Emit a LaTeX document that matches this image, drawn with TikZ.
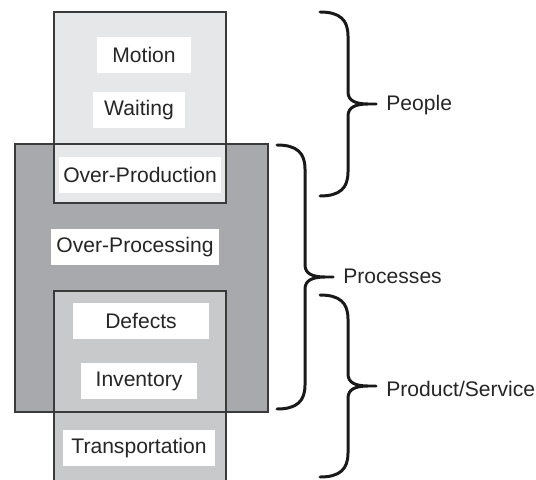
\documentclass[tikz,border=0pt]{standalone}
\usepackage{fontspec}
\setmainfont{Liberation Sans}

\definecolor{peoplegray}{HTML}{E6E7E8}
\definecolor{procgray}{HTML}{A7A9AC}
\definecolor{prodgray}{HTML}{C8C9CB}
\definecolor{edgegray}{HTML}{3A3A3A}

\tikzset{
	waste/.style={fill=white, text=black!85, minimum height=.72cm, inner sep=0pt, font=\fontsize{12}{14}\selectfont},
	group/.style={anchor=base west, text=black!85, inner sep=0pt, font=\fontsize{12}{14}\selectfont},
	outline/.style={draw=edgegray, line width=1.1pt},
	curly/.style={draw=black!90, line width=1.7pt, line cap=round},
	% right-hand curly brace, #1 = its height, drawn down from the pic origin
	pics/curlybrace/.style={code={
		\draw[curly] (0,0) .. controls (20,0) and (28,8) .. (28,24)
			-- (28,#1/2-12) .. controls (28,#1/2-3) and (36,#1/2) .. (48,#1/2) -- (56,#1/2)
			(48,#1/2) .. controls (36,#1/2) and (28,#1/2+3) .. (28,#1/2+12)
			-- (28,#1-24) .. controls (28,#1-8) and (20,#1) .. (0,#1);
	}},
}

\begin{document}
\begin{tikzpicture}[x=.02cm, y=-.02cm]
	\useasboundingbox (0,0) rectangle (536,479);
	\clip (0,0) rectangle (536,479);
	% the three groups, fills first so the edges run across the overlaps
	\fill[procgray]   (15,144) rectangle (268,412);
	\fill[peoplegray] (54,12)  rectangle (226,203);
	\fill[prodgray]   (54,291) rectangle (226,500);
	\draw[outline]    (15,144) rectangle (268,412);
	\draw[outline]    (54,12)  rectangle (226,203);
	\draw[outline]    (54,291) rectangle (226,500);
	% the seven wastes
	\node[waste, minimum width=1.88cm] (motion)     at (144,55)  {Motion};
	\node[waste, minimum width=1.84cm] (waiting)    at (139,110) {Waiting};
	\node[waste, minimum width=3.24cm] (overprod)   at (140,175) {Over-Production};
	\node[waste, minimum width=3.36cm] (overproc)   at (135,247) {Over-Processing};
	\node[waste, minimum width=2.72cm] (defects)    at (141,321) {Defects};
	\node[waste, minimum width=2.32cm] (inventory)  at (139,381) {Inventory};
	\node[waste, minimum width=3.04cm] (transport)  at (139,448) {Transportation};
	% braces and what they group
	\coordinate (people top) at (320,12);
	\coordinate (proc top)   at (277,145);
	\coordinate (prod top)   at (320,295);
	\pic at (people top) {curlybrace=184};
	\pic at (proc top)   {curlybrace=264};
	\pic at (prod top)   {curlybrace=182};
	\node[group] (people)  at (386,111) {People};
	\node[group] (process) at (343,283) {Processes};
	\node[group] (product) at (386,396) {Product/Service};
\end{tikzpicture}
\end{document}
